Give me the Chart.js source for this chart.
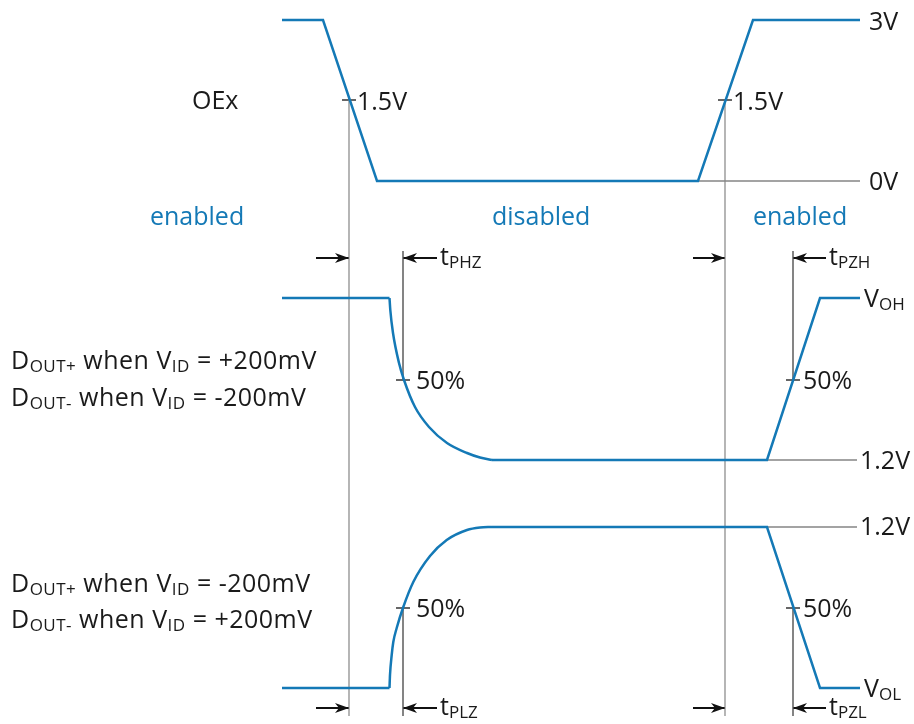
<!DOCTYPE html>
<html lang="en">
  <head>
    <meta charset="UTF-8" />
    <title>OEx enable / disable timing</title>
    <style>
      html, body { margin: 0; padding: 0; background: #fff; }
      #wrap { width: 914px; height: 724px; }
    </style>
  </head>
  <body>
    <div id="wrap"><canvas id="timing" width="914" height="724"></canvas></div>

    <script src="https://cdn.jsdelivr.net/npm/chart.js"></script>
    <script>
      // time axis (t) and level axis (v) of each trace
      const oexT = [282, 323, 377, 698, 753, 860];
      const oexV = [20, 20, 181, 181, 20, 20];

      // D_OUT trace that goes high -> 1.2V -> VOH
      const hiStepT = [282, 389.5];
      const hiStepV = [298, 298];
      const hiDecayT = [389.5, 390.3, 393, 399, 404, 415, 429, 447, 467, 480, 492];
      const hiDecayV = [298, 310, 333, 363, 380, 407, 427, 443, 453, 457.5, 460];
      const hiTailT = [492, 767, 820, 860];
      const hiTailV = [460, 460, 298, 298];

      // D_OUT trace that goes low -> 1.2V -> VOL
      const loStepT = [282, 389.5];
      const loStepV = [688, 688];
      const loRiseT = [389.5, 390, 391.7, 393.3, 396.7, 403.3, 413.3, 430, 446.7, 467, 480, 492];
      const loRiseV = [688, 675, 655, 642, 628, 607, 582, 556, 540, 530, 527.5, 527];
      const loTailT = [492, 767, 820, 860];
      const loTailV = [527, 527, 688, 688];

      // reference lines
      const edgeT = [349, 725];          // 1.5V crossing of OEx
      const markT = [403, 793];          // 50% crossings of the outputs
      const refLines = [                 // [t0, t1, level]
        [698, 860, 181],
        [767, 857, 460],
        [767, 857, 527],
      ];

      const blue = "#1479b6";
      const gray = "#858585";

      function pts(t, v) {
        return t.map((x, i) => ({ x: x, y: v[i] }));
      }

      function trace(t, v, curved) {
        return {
          data: pts(t, v),
          showLine: true,
          borderColor: blue,
          borderWidth: 2.5,
          pointRadius: 0,
          cubicInterpolationMode: curved ? "monotone" : "default",
          borderCapStyle: "butt",
          borderJoinStyle: "miter",
        };
      }

      function line(t, v, color, width) {
        return {
          data: pts(t, v),
          showLine: true,
          borderColor: color,
          borderWidth: width,
          pointRadius: 0,
        };
      }

      const datasets = [
        trace(oexT, oexV),
        trace(hiStepT, hiStepV),
        trace(hiDecayT, hiDecayV, true),
        trace(hiTailT, hiTailV),
        trace(loStepT, loStepV),
        trace(loRiseT, loRiseV, true),
        trace(loTailT, loTailV),
      ];

      // gray verticals from the OEx 1.5V points down to the bottom
      edgeT.forEach((t) => datasets.push(line([t, t], [100, 716], gray, 1.2)));
      // markers from the 50% points
      markT.forEach((t) => {
        datasets.push(line([t, t], [251, 380], "#5c5c5c", 1.5));
        datasets.push(line([t, t], [608, 716], "#5c5c5c", 1.5));
      });
      refLines.forEach((r) => datasets.push(line([r[0], r[1]], [r[2], r[2]], gray, 1.5)));

      // arrows: [from, to] on the two arrow rows
      const arrowRows = [258, 708];
      const arrowSpans = [
        [316, 349],
        [437, 403],
        [693, 725],
        [826, 793],
      ];
      arrowRows.forEach((row) =>
        arrowSpans.forEach((s) => datasets.push(line([s[0], s[1]], [row, row], "#111", 2)))
      );

      // small crosses where the markers meet the traces
      const crossT = [349, 725, 403, 793, 403, 793];
      const crossV = [100, 100, 380, 380, 608, 608];
      crossT.forEach((t, i) =>
        datasets.push(line([t - 7, t + 7], [crossV[i], crossV[i]], "#333", 1.5))
      );

      const FONT = '"Open Sans", "Noto Sans", sans-serif';
      const MAIN = 25;
      const SUB = 17;

      // label pieces: [text, isSub]
      const labels = [
        { t: 869, v: 30, parts: [["3V"]] },
        { t: 869, v: 190, parts: [["0V"]] },
        { t: 192, v: 109, parts: [["OEx"]] },
        { t: 357, v: 110, parts: [["1.5V"]] },
        { t: 733, v: 110, parts: [["1.5V"]] },
        { t: 150, v: 225, parts: [["enabled"]], color: blue },
        { t: 492, v: 225, parts: [["disabled"]], color: blue },
        { t: 753, v: 225, parts: [["enabled"]], color: blue },
        { t: 440, v: 265, parts: [["t"], ["PHZ", 1]] },
        { t: 829, v: 265, parts: [["t"], ["PZH", 1]] },
        { t: 864, v: 307, parts: [["V"], ["OH", 1]] },
        { t: 416, v: 389, parts: [["50%"]] },
        { t: 803, v: 389, parts: [["50%"]] },
        { t: 860, v: 469, parts: [["1.2V"]] },
        { t: 860, v: 535, parts: [["1.2V"]] },
        { t: 416, v: 617, parts: [["50%"]] },
        { t: 803, v: 617, parts: [["50%"]] },
        { t: 864, v: 697, parts: [["V"], ["OL", 1]] },
        { t: 440, v: 715, parts: [["t"], ["PLZ", 1]] },
        { t: 829, v: 715, parts: [["t"], ["PZL", 1]] },
        { t: 11, v: 369, parts: [["D"], ["OUT+", 1], [" when V"], ["ID", 1], [" = +200mV"]], spread: 0.5 },
        { t: 11, v: 406, parts: [["D"], ["OUT-", 1], [" when V"], ["ID", 1], [" = -200mV"]], spread: 0.5 },
        { t: 11, v: 592, parts: [["D"], ["OUT+", 1], [" when V"], ["ID", 1], [" = -200mV"]], spread: 0.5 },
        { t: 11, v: 628, parts: [["D"], ["OUT-", 1], [" when V"], ["ID", 1], [" = +200mV"]], spread: 0.5 },
      ];

      const diagramText = {
        id: "diagramText",
        afterDatasetsDraw(chart) {
          const ctx = chart.ctx;
          const xs = chart.scales.x;
          const ys = chart.scales.y;
          ctx.save();

          // arrow heads
          ctx.fillStyle = "#111";
          arrowRows.forEach((row) =>
            arrowSpans.forEach((s) => {
              const tip = xs.getPixelForValue(s[1]);
              const y = ys.getPixelForValue(row);
              const dir = s[1] > s[0] ? 1 : -1;
              ctx.beginPath();
              ctx.moveTo(tip, y);
              ctx.lineTo(tip - dir * 14, y - 5);
              ctx.lineTo(tip - dir * 10, y);
              ctx.lineTo(tip - dir * 14, y + 5);
              ctx.closePath();
              ctx.fill();
            })
          );

          ctx.textBaseline = "alphabetic";
          ctx.textAlign = "left";
          labels.forEach((l) => {
            let x = xs.getPixelForValue(l.t);
            const y = ys.getPixelForValue(l.v);
            ctx.fillStyle = l.color || "#1a1a1a";
            ctx.letterSpacing = (l.spread || 0) + "px";
            l.parts.forEach((p) => {
              const sub = p[1] === 1;
              ctx.font = (sub ? SUB : MAIN) + "px " + FONT;
              ctx.fillText(p[0], x, y + (sub ? 3 : 0));
              x += ctx.measureText(p[0]).width;
            });
          });
          ctx.restore();
        },
      };

      new Chart(document.getElementById("timing"), {
        type: "scatter",
        data: { datasets: datasets },
        options: {
          responsive: false,
          animation: false,
          layout: { padding: 0 },
          scales: {
            x: { type: "linear", min: 0, max: 914, display: false },
            y: { type: "linear", min: 0, max: 724, reverse: true, display: false },
          },
          plugins: {
            legend: { display: false },
            tooltip: { enabled: false },
          },
        },
        plugins: [diagramText],
      });
    </script>
  </body>
</html>
